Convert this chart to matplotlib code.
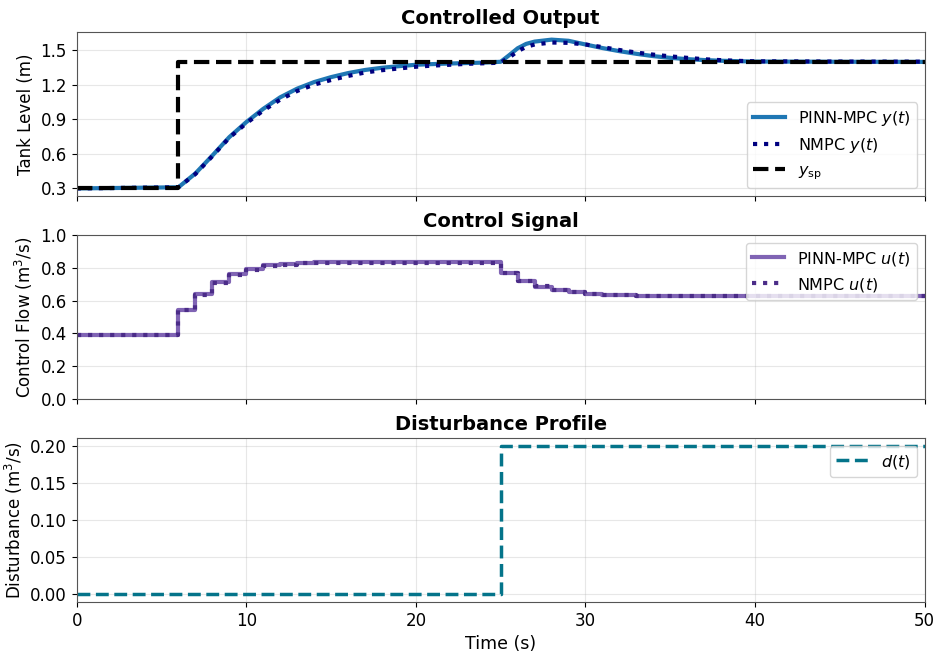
import numpy as np
import matplotlib
matplotlib.use("Agg")
import matplotlib.pyplot as plt

# time grids (s)
t_y = [0, 6, 7, 8, 9, 10, 11, 12, 13, 14, 15, 16, 17, 18, 19, 20, 21, 22, 23, 24, 25,
       25.5, 26, 26.5, 27, 28, 29, 30, 31, 32, 33, 34, 35, 36, 37, 38, 39, 40, 45, 50]

# tank level readings (m)
y_pinn = [0.30, 0.31, 0.43, 0.585, 0.745, 0.875, 0.99, 1.09, 1.165, 1.222, 1.265, 1.30,
          1.327, 1.346, 1.36, 1.372, 1.378, 1.383, 1.387, 1.391, 1.398,
          1.455, 1.515, 1.553, 1.573, 1.59, 1.58, 1.548, 1.517, 1.49, 1.467, 1.447, 1.432,
          1.421, 1.413, 1.407, 1.403, 1.40, 1.398, 1.397]
y_nmpc = [0.30, 0.31, 0.425, 0.58, 0.74, 0.865, 0.975, 1.07, 1.145, 1.20, 1.24, 1.275,
          1.305, 1.325, 1.34, 1.355, 1.365, 1.372, 1.38, 1.385, 1.39,
          1.435, 1.49, 1.527, 1.548, 1.565, 1.562, 1.548, 1.525, 1.50, 1.478, 1.46, 1.445,
          1.432, 1.42, 1.412, 1.406, 1.402, 1.40, 1.399]

# setpoint
t_sp = [0, 6, 6, 50]
y_sp = [0.3, 0.3, 1.4, 1.4]

# control signal, one value per 1 s sample (t = 0..50)
t_u = list(range(51))
u_pinn = ([0.39] * 6 +
          [0.54, 0.64, 0.715, 0.76, 0.795, 0.815, 0.826, 0.832, 0.835] +
          [0.836] * 10 +
          [0.77, 0.72, 0.685, 0.665, 0.65, 0.64, 0.635, 0.632] +
          [0.63] * 18)
u_nmpc = ([0.39] * 6 +
          [0.54, 0.635, 0.71, 0.755, 0.79, 0.81, 0.82, 0.828, 0.83] +
          [0.832] * 10 +
          [0.77, 0.72, 0.687, 0.667, 0.652, 0.642, 0.636, 0.633] +
          [0.631] * 18)

# disturbance (m^3/s)
t_d = [0, 25, 25, 50]
d_val = [0.0, 0.0, 0.2, 0.2]

fig, axes = plt.subplots(3, 1, figsize=(9.35, 6.57), dpi=100, sharex=True)
fig.subplots_adjust(left=0.082, right=0.989, top=0.951, bottom=0.084, hspace=0.24)
ax1, ax2, ax3 = axes

# --- Controlled output
ax1.plot(t_y, y_pinn, color='#1f77b4', lw=3, label='PINN-MPC $y(t)$')
ax1.plot(t_y, y_nmpc, color='#000080', lw=3, ls=':', label='NMPC $y(t)$')
ax1.plot(t_sp, y_sp, color='black', lw=3, ls='--', label=r'$y_{\rm sp}$')
ax1.set_ylabel('Tank Level (m)', fontsize=12)
ax1.set_title('Controlled Output', fontsize=14, fontweight='bold')
ax1.set_yticks([0.3, 0.6, 0.9, 1.2, 1.5])
ax1.legend(loc='lower right', fontsize=11.5)

# --- Control signal
ax2.step(t_u, u_pinn, where='post', color='#8064b4', lw=3, label='PINN-MPC $u(t)$')
ax2.step(t_u, u_nmpc, where='post', color='#4b2c88', lw=3, ls=':', label='NMPC $u(t)$')
ax2.set_ylabel('Control Flow (m$^3$/s)', fontsize=12)
ax2.set_title('Control Signal', fontsize=14, fontweight='bold')
ax2.set_ylim(0, 1.0)
ax2.set_yticks([0.0, 0.2, 0.4, 0.6, 0.8, 1.0])
ax2.legend(loc='upper right', fontsize=11.5)

# --- Disturbance
ax3.plot(t_d, d_val, color='#04748a', lw=2.5, ls='--', label='$d(t)$')
ax3.set_ylabel('Disturbance (m$^3$/s)', fontsize=12)
ax3.set_title('Disturbance Profile', fontsize=14, fontweight='bold')
ax3.set_xlabel('Time (s)', fontsize=12.5)
ax3.set_yticks([0.0, 0.05, 0.10, 0.15, 0.20])
ax3.legend(loc='upper right', fontsize=11.5)

for ax in axes:
    ax.grid(True, alpha=0.3)
    ax.tick_params(labelsize=12)
    for sp in ax.spines.values():
        sp.set_color('#555555')
ax3.set_xlim(0, 50)

fig.savefig('out.png', dpi=100)
